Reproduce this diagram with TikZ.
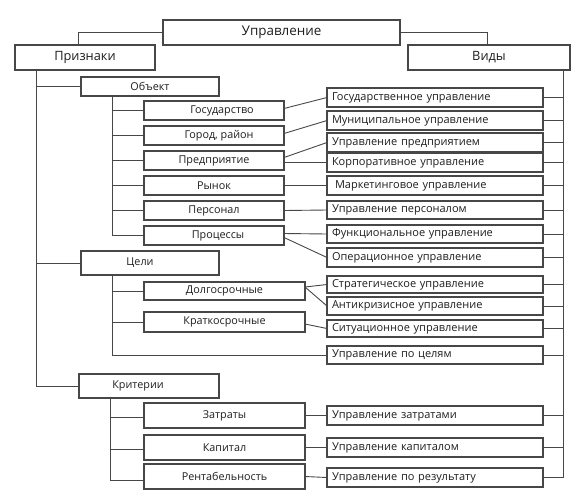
\documentclass[tikz,border=0pt]{standalone}
\usepackage{fontspec}
\setmainfont{Open Sans}
\usetikzlibrary{calc}
\definecolor{linec}{HTML}{474747}
\definecolor{txtc}{HTML}{1E1E1E}
\begin{document}
\begin{tikzpicture}[x=1pt,y=-1pt,
  bx/.style={draw=linec, line width=1.2pt, inner sep=0pt, outer sep=0pt, anchor=north west, text=txtc, font=\fontsize{10.8}{12}\selectfont},
  lb/.style 2 args={bx, minimum width=#1, minimum height=#2},
  rb/.style={bx, minimum height=#1, text width=206pt, inner xsep=5pt, align=left, font=\fontsize{11}{12}\selectfont},
  conn/.style={draw=linec, line width=0.9pt}]
\useasboundingbox[fill=white] (0,0) rectangle (580,501);
% top level
\node[lb={237pt}{25pt}, font=\fontsize{13.4}{15}\selectfont] (upr) at (163,20) {Управление};
\node[lb={140pt}{25pt}, font=\fontsize{12.8}{14}\selectfont] (priz) at (15,45) {Признаки};
\node[lb={162pt}{25pt}, font=\fontsize{12.8}{14}\selectfont] (vid) at (408,45) {Виды};
% left side
\node[lb={138pt}{19pt}] (obj) at (81,77) {Объект};
\node[lb={140pt}{19pt}] (gos) at (144,101) {\hspace*{16pt}Государство};
\node[lb={140pt}{19pt}] (gor) at (144,126) {\hspace*{10pt}Город, район};
\node[lb={140pt}{19pt}] (pre) at (144,151) {Предприятие};
\node[lb={140pt}{19pt}] (ryn) at (144,176) {Рынок};
\node[lb={140pt}{19pt}] (per) at (144,201) {Персонал};
\node[lb={140pt}{19pt}] (pro) at (144,226) {\hspace*{8pt}Процессы};
\node[lb={138pt}{24pt}] (cel) at (81,251) {Цели\hspace*{20pt}};
\node[lb={161pt}{18pt}] (dol) at (144,282) {Долгосрочные};
\node[lb={161pt}{20pt}] (kra) at (144,312) {Краткосрочные};
\node[lb={140pt}{24pt}] (kri) at (79,374) {Критерии\hspace*{22pt}};
\node[lb={161pt}{25pt}] (zat) at (144,403) {Затраты};
\node[lb={161pt}{25pt}] (kap) at (144,435) {Капитал};
\node[lb={161pt}{25pt}] (ren) at (144,464) {Рентабельность};
% right side
\node[rb=19pt] (r1) at (327,88) {Государственное управление};
\node[rb=19pt] (r2) at (327,111) {Муниципальное управление};
\node[rb=19pt] (r3) at (327,133) {Управление предприятием};
\node[rb=19pt] (r4) at (327,153) {Корпоративное управление};
\node[rb=19pt] (r5) at (327,176) {\hspace*{3pt}Маркетинговое управление};
\node[rb=18pt] (r6) at (327,201) {Управление персоналом};
\node[rb=18pt] (r7) at (327,225) {Функциональное управление};
\node[rb=19pt] (r8) at (327,248) {Операционное управление};
\node[rb=17pt] (r9) at (327,276) {Стратегическое управление};
\node[rb=18pt] (r10) at (327,297) {Антикризисное управление};
\node[rb=17pt] (r11) at (327,320) {Ситуационное управление};
\node[rb=18pt] (r12) at (327,346) {Управление по целям};
\node[rb=19pt] (r13) at (327,406) {Управление затратами};
\node[rb=19pt] (r14) at (327,438) {Управление капиталом};
\node[rb=19pt] (r15) at (327,468) {Управление по результату};
% trunk coordinates
\coordinate (ta) at (36,70);
\coordinate (tb) at (112,96);
\coordinate (tc) at (112,275);
\coordinate (td) at (110,398);
\coordinate (te) at (563,70);
% top connectors
\draw[conn] (upr.west) -| ([xshift=-7pt]priz.north);
\draw[conn] (upr.east) -| ([xshift=-2pt]vid.north);
% Признаки trunk
\draw[conn] (ta) |- (kri.west);
\draw[conn] (obj.west) -- (obj.west -| ta);
\draw[conn] (cel.west) -- (cel.west -| ta);
% Объект trunk
\draw[conn] (tb) |- (pro.west);
\foreach \n in {gos,gor,pre,ryn,per} \draw[conn] (\n.west) -- (\n.west -| tb);
% Цели trunk
\draw[conn] (tc) |- (r12.west);
\foreach \n in {dol,kra} \draw[conn] (\n.west) -- (\n.west -| tc);
% Критерии trunk
\draw[conn] (td) |- ([yshift=-3.5pt]ren.west);
\foreach \n in {zat,kap} \draw[conn] ([yshift=-2pt]\n.west) -- ([yshift=-2pt]\n.west -| td);
% Виды trunk
\draw[conn] (te) |- (r15.east);
\foreach \n in {r1,r2,r3,r4,r5,r6,r7,r8,r9,r10,r11,r12,r13,r14} \draw[conn] (\n.east) -- (\n.east -| te);
% left-right links
\draw[conn] ([yshift=2pt]gos.east) -- (r1.west);
\draw[conn] ([yshift=2pt]gor.east) -- (r2.west);
\draw[conn] ([yshift=3pt]pre.east) -- (r3.west);
\draw[conn] ([yshift=-2pt]pre.east) -- (r4.west);
\draw[conn] (ryn.east) -- (r5.west);
\draw[conn] (per.east) -- (r6.west);
\draw[conn] ([yshift=2pt]pro.east) -- (r7.west);
\draw[conn] ([yshift=-2pt]pro.east) -- (r8.west);
\draw[conn] ([yshift=4pt]dol.east) -- (r9.west);
\draw[conn] ([yshift=4pt]dol.east) -- (r10.west);
\draw[conn] ([yshift=-2pt]kra.east) -- (r11.west);
\draw[conn] (zat.east) -- (r13.west);
\draw[conn] (kap.east) -- (r14.west);
\draw[conn] (ren.east) -- (r15.west);
\end{tikzpicture}
\end{document}
